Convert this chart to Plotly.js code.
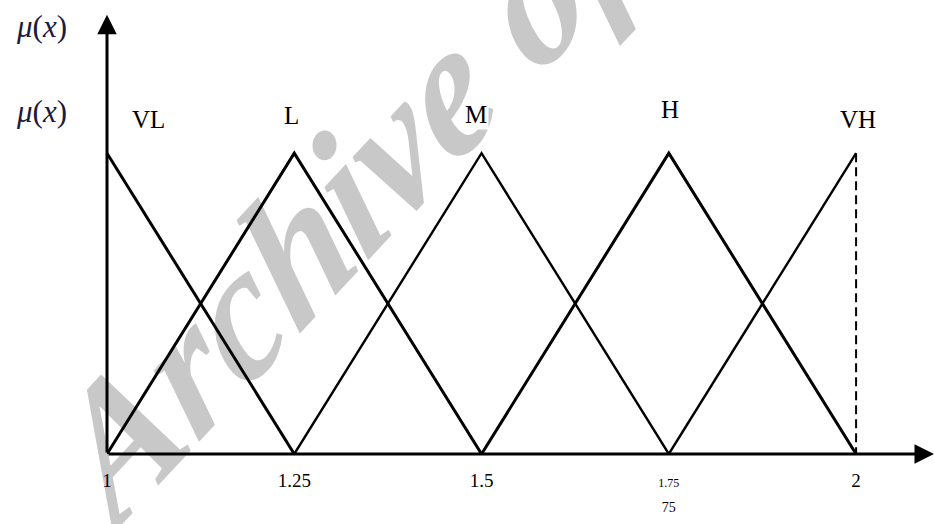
<!DOCTYPE html>
<html>
<head>
<meta charset="utf-8">
<script src="https://cdn.plot.ly/plotly-3.0.1.min.js"></script>
<style>
html,body{margin:0;padding:0;background:#fff;}
#wrap{position:relative;width:934px;height:524px;overflow:hidden;}
#wm{position:absolute;left:458px;top:76px;transform:translate(-50%,-50%) rotate(-47deg) skewX(-12deg);
  font-family:'Liberation Serif','Times New Roman',serif;font-weight:bold;font-style:italic;
  font-size:178px;line-height:1;color:#c8c8c8;white-space:nowrap;}
#chart{position:absolute;left:0;top:0;width:934px;height:524px;}
</style>
</head>
<body>
<div id="wrap">
<div id="wm">Archive of SID</div>
<div id="chart"></div>
</div>
<script>
// Membership function break points (universe of discourse)
var xVL = [1, 1.25];
var yVL = [1, 0];
var xL = [1, 1.25, 1.5];
var yL = [0, 1, 0];
var xM = [1.25, 1.5, 1.75];
var yM = [0, 1, 0];
var xH = [1.5, 1.75, 2];
var yH = [0, 1, 0];
var xVH = [1.75, 2];
var yVH = [0, 1];
var xVHedge = [2, 2];
var yVHedge = [1, 0];

var setNames = ['VL', 'L', 'M', 'H', 'VH'];
var setPeaks = [1, 1.25, 1.5, 1.75, 2];

var tickVals = [1, 1.25, 1.5, 1.75, 2];
var tickText = ['1', '1.25', '1.5', "<span style='font-size:12px'>1.75</span><br><span style='font-size:14px'>75</span>", '2'];

var serif = 'Liberation Serif, Times New Roman, serif';

function tr(x, y, w, dash) {
  return {x: x, y: y, type: 'scatter', mode: 'lines', hoverinfo: 'skip',
    line: {color: '#000', width: w, dash: dash || 'solid'}, cliponaxis: false};
}

var data = [
  tr(xVL, yVL, 3),
  tr(xL, yL, 3),
  tr(xM, yM, 2.4),
  tr(xH, yH, 3),
  tr(xVH, yVH, 2.4),
  tr(xVHedge, yVHedge, 2, '9px,5px')
];

var labelOffsets = [[0.056, 1.113], [-0.004, 1.126], [-0.007, 1.13], [0.002, 1.146], [0.003, 1.113]];

var annotations = [];
// axis arrows
annotations.push({x: 2.104, y: 0, ax: 1, ay: 0, xref: 'x', yref: 'y', axref: 'x', ayref: 'y',
  text: '', showarrow: true, arrowhead: 2, arrowsize: 1.3, arrowwidth: 3, arrowcolor: '#000'});
annotations.push({x: 1, y: 1.46, ax: 1, ay: 0, xref: 'x', yref: 'y', axref: 'x', ayref: 'y',
  text: '', showarrow: true, arrowhead: 2, arrowsize: 1.3, arrowwidth: 3, arrowcolor: '#000'});
// set labels
for (var i = 0; i < setNames.length; i++) {
  annotations.push({x: setPeaks[i] + labelOffsets[i][0], y: labelOffsets[i][1], xref: 'x', yref: 'y',
    showarrow: false, text: setNames[i], bgcolor: '#fff',
    font: {family: serif, size: 25, color: '#000'}});
}
// mu(x) labels
annotations.push({x: -0.079, y: 0.975, xref: 'paper', yref: 'paper', xanchor: 'center', yanchor: 'middle',
  showarrow: false, text: '<i>μ</i>(<i>x</i>)', font: {family: serif, size: 31, color: '#1a1a40'}});
annotations.push({x: -0.079, y: 0.781, xref: 'paper', yref: 'paper', xanchor: 'center', yanchor: 'middle',
  showarrow: false, text: '<i>μ</i>(<i>x</i>)', font: {family: serif, size: 31, color: '#1a1a40'}});

var layout = {
  width: 934, height: 524,
  margin: {l: 107, r: 0, t: 16, b: 70},
  paper_bgcolor: 'rgba(0,0,0,0)', plot_bgcolor: 'rgba(0,0,0,0)',
  showlegend: false,
  xaxis: {range: [1, 2.104], showgrid: false, zeroline: false, showline: false,
    tickvals: tickVals, ticktext: tickText, ticks: '', ticklabelstandoff: 13,
    tickfont: {family: serif, size: 19, color: '#000'}, fixedrange: true},
  yaxis: {range: [0, 1.456], showgrid: false, zeroline: false, showline: false,
    showticklabels: false, ticks: '', fixedrange: true},
  annotations: annotations
};

Plotly.newPlot('chart', data, layout, {displayModeBar: false, staticPlot: true});
</script>
</body>
</html>
